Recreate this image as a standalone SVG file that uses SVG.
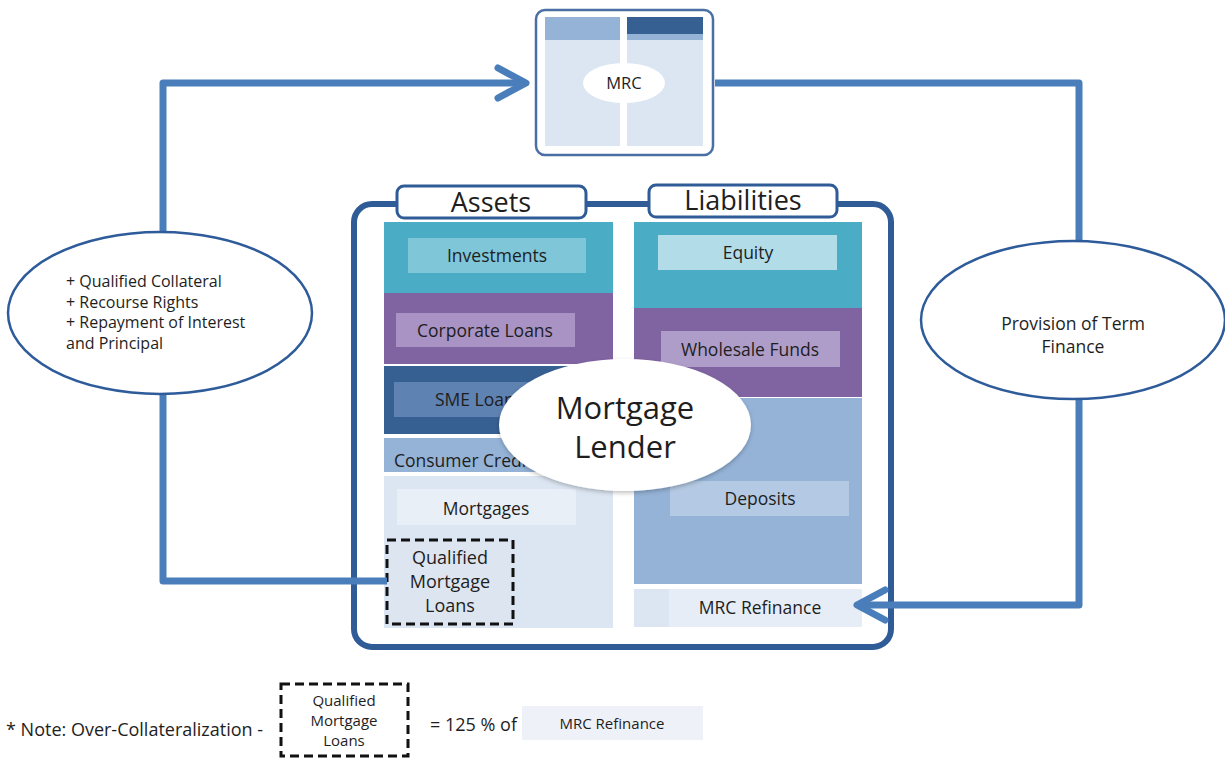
<svg xmlns="http://www.w3.org/2000/svg" width="1225" height="759" viewBox="0 0 1225 759">
  <defs>
    <style>
      text { font-family: "Open Sans", Lato, "Liberation Sans", sans-serif; fill: #1e1e1e; }
      .c { text-anchor: middle; }
      .lbl { font-size: 17.5px; }
      .flow { fill: none; stroke: #4a7ebb; stroke-width: 7; stroke-linejoin: round; }
      .oval { fill: #ffffff; stroke: #2e5b9a; stroke-width: 2.5; }
      .tab { fill: #ffffff; stroke: #2f5c97; stroke-width: 3; }
      .dash { fill: #dde5f0; stroke: #111111; stroke-width: 3; stroke-dasharray: 9 5; }
    </style>
    <marker id="chev" markerUnits="userSpaceOnUse" markerWidth="40" markerHeight="40" viewBox="-34 -20 40 40" refX="0" refY="0" orient="auto">
      <path d="M-28,-15 L0,0 L-28,15" fill="none" stroke="#4a7ebb" stroke-width="7" stroke-linecap="round" stroke-linejoin="round"/>
    </marker>
    <filter id="soft" x="-10%" y="-10%" width="120%" height="130%">
      <feDropShadow dx="0" dy="2" stdDeviation="2" flood-color="#000" flood-opacity="0.25"/>
    </filter>
  </defs>

  <rect width="1225" height="759" fill="#ffffff"/>

  <!-- MRC node -->
  <g id="mrc">
    <rect x="536" y="10" width="177" height="145" rx="9" fill="#ffffff" stroke="#4a6fa5" stroke-width="2.5"/>
    <rect x="545" y="17" width="75" height="129" fill="#dce6f2"/>
    <rect x="545" y="17" width="75" height="23" fill="#95b3d7"/>
    <rect x="627" y="17" width="76" height="129" fill="#dce6f2"/>
    <rect x="627" y="17" width="76" height="23" fill="#95b3d7"/>
    <rect x="627" y="17" width="76" height="17" fill="#366092"/>
    <ellipse cx="624" cy="83" rx="41" ry="20" fill="#ffffff"/>
    <text class="c" x="624" y="89" font-size="16.5">MRC</text>
  </g>

  <!-- Mortgage lender balance sheet -->
  <g id="lender">
    <rect x="354" y="204" width="537" height="443" rx="18" fill="#ffffff" stroke="#2f5c97" stroke-width="6"/>

    <g id="assets">
      <rect x="384" y="222" width="229" height="71" fill="#4bacc6"/>
      <rect x="408" y="238" width="178" height="35" fill="#7fc6d8"/>
      <text class="c lbl" x="497" y="262">Investments</text>

      <rect x="384" y="293" width="229" height="71" fill="#8064a2"/>
      <rect x="396" y="313" width="179" height="34" fill="#a893c4"/>
      <text class="c lbl" x="485" y="337">Corporate Loans</text>

      <rect x="384" y="366" width="229" height="68" fill="#366092"/>
      <rect x="394" y="382" width="170" height="35" fill="#5e82b1"/>
      <text class="lbl" x="435" y="406">SME Loans</text>

      <rect x="384" y="438" width="229" height="34" fill="#95b3d7"/>
      <text class="lbl" x="394" y="467">Consumer Credit</text>

      <rect x="384" y="476" width="229" height="152" fill="#dce6f2"/>
      <rect x="397" y="489" width="179" height="36" fill="#e9eff7"/>
      <text class="c lbl" x="486" y="515">Mortgages</text>
    </g>

    <g id="qualified-loans">
      <rect class="dash" x="387" y="540" width="126" height="84"/>
      <text class="c" x="450" y="564" font-size="18">Qualified</text>
      <text class="c" x="450" y="588" font-size="18">Mortgage</text>
      <text class="c" x="450" y="612" font-size="18">Loans</text>
    </g>

    <g id="liabilities">
      <rect x="634" y="222" width="228" height="86" fill="#4bacc6"/>
      <rect x="658" y="235" width="179" height="35" fill="#b2dce7"/>
      <text class="c lbl" x="748" y="259">Equity</text>

      <rect x="634" y="308" width="228" height="89" fill="#8064a2"/>
      <rect x="661" y="331" width="179" height="36" fill="#ae9dc8"/>
      <text class="c lbl" x="750" y="356">Wholesale Funds</text>

      <rect x="634" y="398" width="228" height="186" fill="#95b3d7"/>
      <rect x="670" y="481" width="179" height="35" fill="#b4c9e3"/>
      <text class="c lbl" x="760" y="505">Deposits</text>

      <rect x="634" y="589" width="228" height="38" fill="#dce6f2"/>
      <rect x="669" y="589" width="193" height="38" fill="#e6edf6"/>
      <text class="c lbl" x="760" y="614">MRC Refinance</text>
    </g>

    <g id="tab-assets">
      <rect class="tab" x="397" y="186" width="189" height="32" rx="7"/>
      <text class="c" x="491" y="212" font-size="27">Assets</text>
    </g>
    <g id="tab-liabilities">
      <rect class="tab" x="649" y="185" width="188" height="32" rx="7"/>
      <text class="c" x="743" y="210" font-size="27">Liabilities</text>
    </g>
  </g>

  <!-- connectors -->
  <g id="connectors">
    <path class="flow" d="M387,581 H163 V83 H526" marker-end="url(#chev)"/>
    <path class="flow" d="M715,83 H1079 V605 H857" marker-end="url(#chev)"/>
  </g>

  <g id="collateral">
    <ellipse class="oval" cx="160" cy="313" rx="152" ry="81"/>
    <text x="66" y="287" font-size="16">+ Qualified Collateral</text>
    <text x="66" y="308" font-size="16">+ Recourse Rights</text>
    <text x="66" y="328" font-size="16">+ Repayment of Interest</text>
    <text x="66" y="349" font-size="16">and Principal</text>
  </g>

  <g id="term-finance">
    <ellipse class="oval" cx="1073" cy="320" rx="152" ry="79"/>
    <text class="c" x="1073" y="330" font-size="17.5">Provision of Term</text>
    <text class="c" x="1073" y="353" font-size="17.5">Finance</text>
  </g>

  <g id="mortgage-lender">
    <ellipse cx="625" cy="425" rx="126" ry="66" fill="#ffffff" filter="url(#soft)"/>
    <text class="c" x="625" y="419" font-size="31">Mortgage</text>
    <text class="c" x="625" y="458" font-size="31">Lender</text>
  </g>

  <!-- footnote -->
  <g id="note">
    <text x="6" y="736" font-size="18">* Note: Over-Collateralization -</text>
    <rect x="281" y="684" width="127" height="72" fill="#ffffff" stroke="#111111" stroke-width="3" stroke-dasharray="9 5"/>
    <text class="c" x="344" y="706" font-size="15">Qualified</text>
    <text class="c" x="344" y="726" font-size="15">Mortgage</text>
    <text class="c" x="344" y="746" font-size="15">Loans</text>
    <text x="430" y="731" font-size="18">= 125 % of</text>
    <rect x="522" y="706" width="181" height="34" fill="#eef2f8"/>
    <text class="c" x="612" y="729" font-size="15">MRC Refinance</text>
  </g>
</svg>
